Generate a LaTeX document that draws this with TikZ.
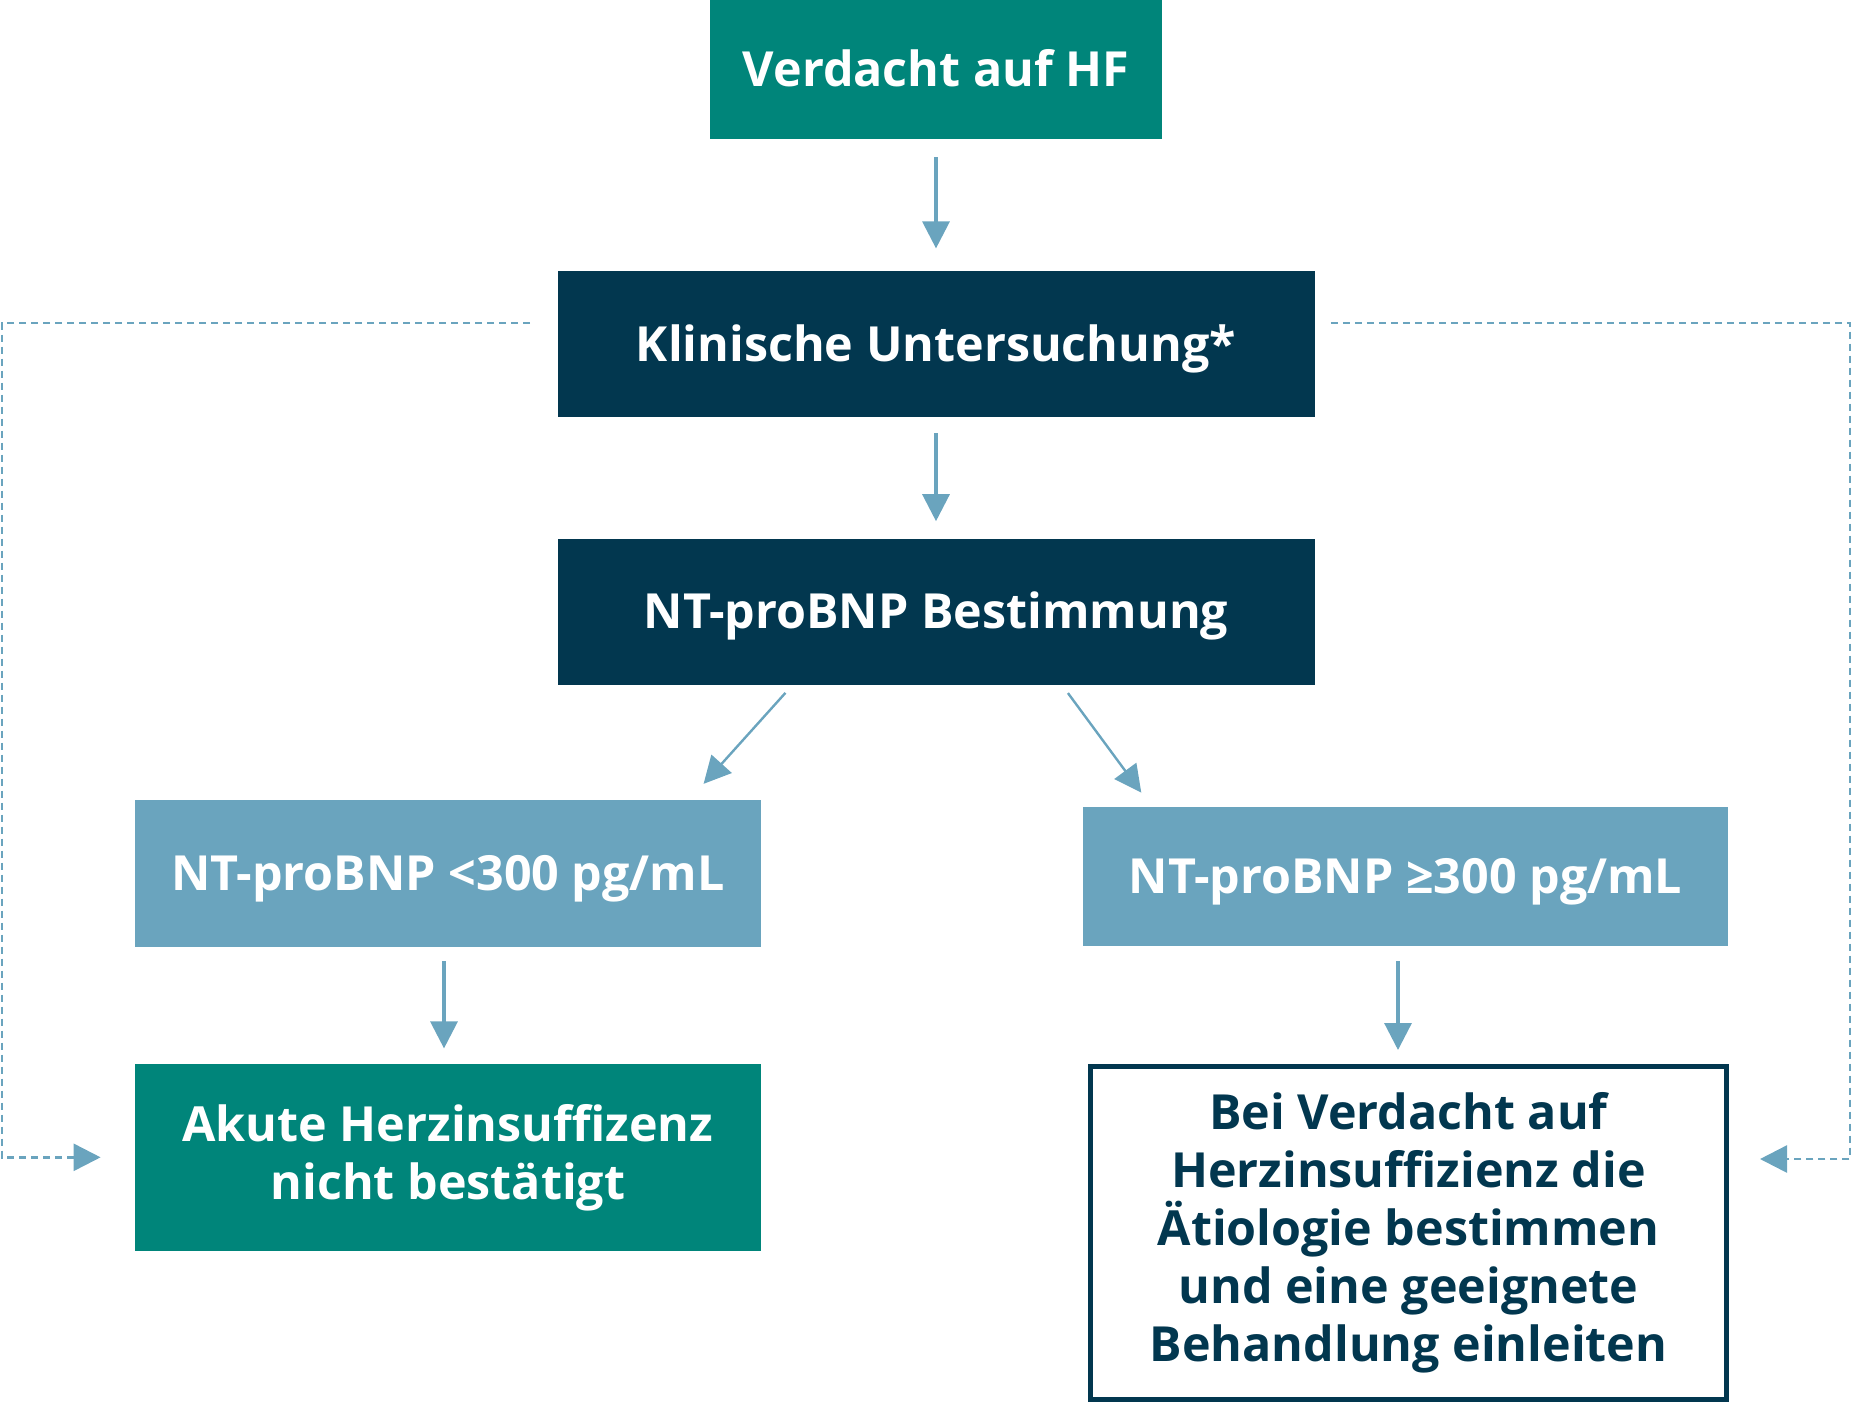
\documentclass[tikz,border=0pt]{standalone}
\usepackage{fontspec}
\setmainfont{Open Sans}
\usetikzlibrary{positioning, arrows.meta, calc}

\definecolor{hfteal}{HTML}{00857A}
\definecolor{hfnavy}{HTML}{02374F}
\definecolor{hfblue}{HTML}{6AA4BE}

\begin{document}
\begin{tikzpicture}[
         box/.style={rectangle, inner sep=0pt, align=center, text=white,
            font=\bfseries\fontsize{24.2pt}{29pt}\selectfont},
         oneline/.style={text height=17.3pt, text depth=0pt},
         start/.style={box, oneline, fill=hfteal},
         exam/.style={box, oneline, fill=hfnavy, minimum width=378.5pt, minimum height=73pt},
         result/.style={box, oneline, fill=hfblue},
         outcome/.style={box, draw=hfnavy, line width=2.5pt, text=hfnavy},
         flow/.style={-{Triangle[length=13.5pt, width=13.5pt]}, hfblue, line width=1.6pt},
         branch/.style={flow, line width=1.2pt},
         feedback/.style={flow, line width=1.3pt, dash pattern=on 3.5pt off 2.5pt}
      ]
         \useasboundingbox (0pt,0pt) rectangle (926pt,-702pt);

         % Nodes for the examination steps
         \node[start, minimum width=226pt, minimum height=69.5pt] (verdacht) at (468pt,-34.75pt) {Verdacht auf HF};
         \node[exam, below=65.5pt of verdacht] (klinisch) {Klinische Untersuchung*};
         \node[exam, below=60.5pt of klinisch] (bestimmung) {NT-proBNP Bestimmung};

         % Nodes for the two results
         \node[result, minimum width=313pt, minimum height=73.5pt] (low) at (224pt,-436.75pt) {NT-proBNP <300 pg/mL};
         \node[result, minimum width=322.5pt, minimum height=69.5pt] (high) at (702.75pt,-438.25pt) {NT-proBNP ≥300 pg/mL};
         \node[box, fill=hfteal, minimum width=313pt, minimum height=93.5pt, below=58pt of low] (akut) {Akute Herzinsuffizenz\\nicht bestätigt};
         \node[outcome, minimum width=318pt, minimum height=166.5pt] (etiologie) at (704.25pt,-616.5pt)
            {Bei Verdacht auf\\Herzinsuffizienz die\\Ätiologie bestimmen\\und eine geeignete\\Behandlung einleiten};

         % Arrows
         \draw[flow, shorten <=9pt, shorten >=11pt] (verdacht.south) -- (klinisch.north);
         \draw[flow, shorten <=8pt, shorten >=8.5pt] (klinisch.south) -- (bestimmung.north);
         \draw[branch, shorten <=5.3pt, shorten >=10.6pt] ([xshift=-71.75pt]bestimmung.south) -- ([xshift=-36pt]low.north east);
         \draw[branch, shorten <=5pt, shorten >=8.7pt] ([xshift=63pt]bestimmung.south) -- ([xshift=34.5pt]high.north west);
         \draw[flow, shorten <=7pt, shorten >=7.5pt] ([xshift=-2pt]low.south) -- ([xshift=-2pt]akut.north);
         \draw[flow, shorten <=7.5pt, shorten >=7pt] ([xshift=-3.75pt]high.south) -- ([xshift=-3.75pt]high.south |- etiologie.north);

         % Dashed side paths
         \coordinate (lside) at (1pt,-400pt);
         \coordinate (rside) at (925pt,-400pt);
         \draw[feedback, shorten >=17pt] ([xshift=-13.5pt, yshift=10.5pt]klinisch.west) -| (lside) |- (akut.west);
         \draw[feedback, shorten >=15.5pt] ([xshift=8pt, yshift=10.5pt]klinisch.east) -| (rside) |- ([yshift=37pt]etiologie.east);
      \end{tikzpicture}
\end{document}
